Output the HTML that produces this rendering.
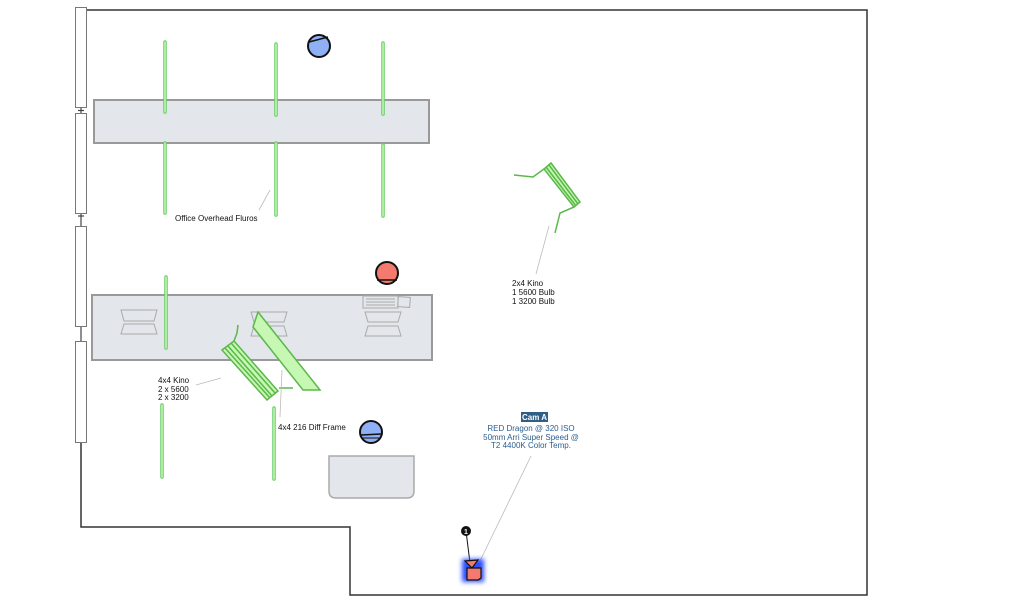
<!DOCTYPE html>
<html><head><meta charset="utf-8"><style>
html,body{margin:0;padding:0;background:#fff;width:1024px;height:604px;overflow:hidden}
svg{display:block}
text{font-family:"Liberation Sans",sans-serif;font-size:8px;fill:#111}
.c text{fill:#2a5d8f}
</style></head><body>
<svg width="1024" height="604" viewBox="0 0 1024 604" xmlns="http://www.w3.org/2000/svg">
<defs>
<filter id="glow" x="-1" y="-1" width="3" height="3"><feGaussianBlur stdDeviation="2.5"/></filter>
</defs>
<polyline points="81,442 81,527 350,527 350,595 867,595 867,10 87,10" fill="none" stroke="#333" stroke-width="1.5"/>
<g stroke="#444" stroke-width="1.2">
<line x1="81" y1="108" x2="81" y2="113"/><line x1="78" y1="110.5" x2="84" y2="110.5"/>
<line x1="81" y1="214" x2="81" y2="226"/><line x1="78" y1="216" x2="84" y2="216"/>
<line x1="81" y1="327" x2="81" y2="341"/>
</g>
<g fill="#fff" stroke="#777" stroke-width="1">
<rect x="75.5" y="7.5" width="11" height="100"/>
<rect x="75.5" y="113.5" width="11" height="100"/>
<rect x="75.5" y="226.5" width="11" height="100"/>
<rect x="75.5" y="341.5" width="11" height="101"/>
</g>
<rect x="94" y="100" width="335" height="43" fill="#e3e6ea" stroke="#999" stroke-width="2"/>
<rect x="92" y="295" width="340" height="65" fill="#e3e6ea" stroke="#999" stroke-width="2"/>
<path d="M329,456 H414 V491 Q414,498 407,498 H336 Q329,498 329,491 Z" fill="#e3e6ea" stroke="#aaa" stroke-width="1.5"/>
<g fill="none" stroke="#aaa" stroke-width="1">
<path d="M121,310 H157 L154,321 H124 Z"/><path d="M124,324 H154 L157,334 H121 Z"/>
<path d="M251,312 H287 L284,322 H254 Z"/><path d="M254,326 H284 L287,336 H251 Z"/>
<path d="M365,312 H401 L398,322 H368 Z"/><path d="M368,326 H398 L401,336 H365 Z"/>
<rect x="363" y="296" width="35" height="12"/>
<line x1="366" y1="299" x2="395" y2="299"/><line x1="366" y1="302" x2="395" y2="302"/><line x1="366" y1="305" x2="395" y2="305"/>
<rect x="398" y="297" width="12" height="10" transform="rotate(4 404 302)"/>
</g>
<g stroke="#6c6" stroke-width="3.5" stroke-linecap="round"><path d="M165,42V112M165,143V213M276,44V115M276,143V215M383,43V114M383,145V216M166,277V348M162,405V477M274,408V479"/></g>
<g stroke="#c6f7b3" stroke-width="1.5" stroke-linecap="round"><path d="M165,42V112M165,143V213M276,44V115M276,143V215M383,43V114M383,145V216M166,277V348M162,405V477M274,408V479"/></g>
<circle cx="319" cy="46" r="11" fill="#8fb0f5" stroke="#111" stroke-width="2"/><line x1="309" y1="42" x2="328" y2="37" stroke="#111" stroke-width="1.5"/>
<circle cx="387" cy="273" r="11" fill="#f47a6f" stroke="#111" stroke-width="2"/><line x1="377" y1="280" x2="397" y2="280" stroke="#111" stroke-width="1.5"/>
<circle cx="371" cy="432" r="11" fill="#8fb0f5" stroke="#111" stroke-width="2"/><line x1="361" y1="435" x2="381" y2="434" stroke="#111" stroke-width="1.5"/><line x1="362" y1="438" x2="380" y2="438" stroke="#111" stroke-width="1"/>
<g stroke="#5bb84a" fill="none" stroke-width="1.5">
<polygon points="222,350 234,341 278,391 267,400" fill="#c6f7b3"/>
<line x1="225" y1="348" x2="270" y2="398"/><line x1="228" y1="346" x2="272" y2="396"/><line x1="231" y1="343" x2="275" y2="393"/>
<polyline points="234,341 237,333 238,325"/><polyline points="279,388 293,388"/>
<polygon points="258,312 320,390 303,390 253,327" fill="#c6f7b3"/>
</g>
<g stroke="#5bb84a" fill="none" stroke-width="1.5">
<polygon points="551,163 580,202 574,207 544,169" fill="#c6f7b3"/>
<line x1="549" y1="165" x2="578" y2="204"/><line x1="546" y1="167" x2="576" y2="206"/>
<polyline points="544,169 533,177 514,175"/><polyline points="574,207 560,213 555,233"/>
</g>
<g stroke="#bbb" stroke-width="0.8">
<line x1="549" y1="226" x2="536" y2="274"/>
<line x1="270" y1="190" x2="259" y2="210"/>
<line x1="196" y1="385" x2="221" y2="378"/>
<line x1="282" y1="370" x2="280" y2="417"/>
<line x1="531" y1="456" x2="480" y2="561"/>
</g>
<text x="175" y="221">Office Overhead Fluros</text>
<text x="512" y="286">2x4 Kino</text><text x="512" y="295">1 5600 Bulb</text><text x="512" y="304">1 3200 Bulb</text>
<text x="158" y="383">4x4 Kino</text><text x="158" y="392">2 x 5600</text><text x="158" y="400">2 x 3200</text>
<text x="278" y="430">4x4 216 Diff Frame</text>
<g class="c">
<rect x="521" y="412" width="27" height="10" fill="#2f5f86"/>
<text x="534.5" y="420" text-anchor="middle" style="fill:#fff;font-weight:bold">Cam A</text>
<text x="531" y="431" text-anchor="middle">RED Dragon @ 320 ISO</text>
<text x="531" y="440" text-anchor="middle">50mm Arri Super Speed @</text>
<text x="531" y="448" text-anchor="middle">T2 4400K Color Temp.</text>
</g>
<line x1="466" y1="531" x2="470" y2="563" stroke="#111" stroke-width="1"/>
<circle cx="466" cy="531" r="5" fill="#111"/><text x="466" y="534" text-anchor="middle" style="fill:#fff;font-size:7px;font-weight:bold">1</text>
<g filter="url(#glow)"><rect x="462" y="559" width="22" height="23" fill="#2a4fff"/></g>
<path d="M465,561 L478,560 L472,568 Z M467,568 H481 V578 L478,580 H467 Z" fill="#f47a6f" stroke="#111" stroke-width="1.2"/>
</svg>
</body></html>
